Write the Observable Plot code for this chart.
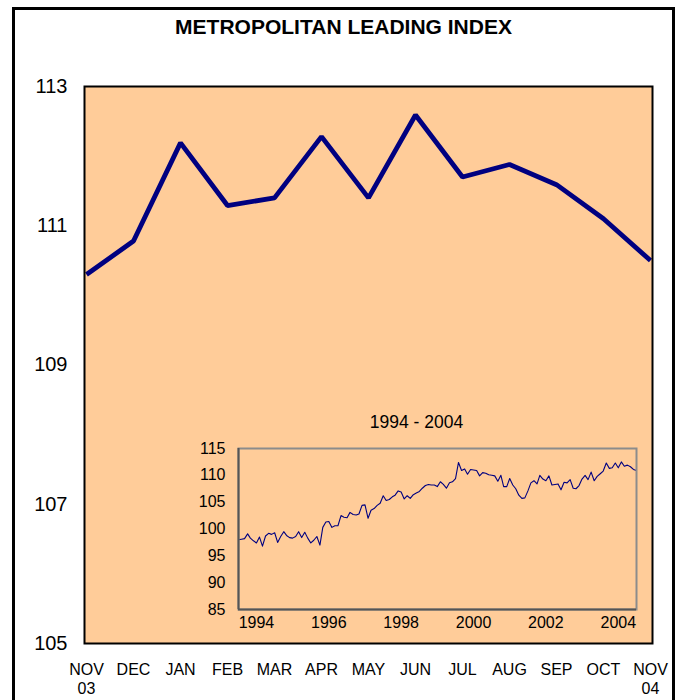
<!DOCTYPE html>
<html>
<head>
<meta charset="utf-8">
<script src="https://cdn.jsdelivr.net/npm/d3@7"></script>
<script src="https://cdn.jsdelivr.net/npm/@observablehq/plot@0.6"></script>
<style>
  html, body { margin: 0; padding: 0; background: #ffffff; }
  #wrap { position: relative; width: 680px; height: 700px; overflow: hidden; font-family: "Liberation Sans", Arial, sans-serif; }
  #outer { position: absolute; left: 12px; top: 7px; width: 657px; height: 760px; border: 3px solid #000; }
  #title { position: absolute; left: 12px; width: 663px; top: 14px; line-height: 26px; text-align: center; font-weight: bold; font-size: 21px; color: #000; }
  .layer { position: absolute; }
</style>
</head>
<body>
<div id="wrap">
  <div id="outer"></div>
  <div id="title">METROPOLITAN LEADING INDEX</div>
  <div id="main" class="layer" style="left:0;top:0;"></div>
  <div id="inset" class="layer" style="left:180px;top:400px;"></div>
</div>
<script>
// ---- Main chart data (Nov 2003 - Nov 2004) ----
const months = ["NOV\n03", "DEC", "JAN", "FEB", "MAR", "APR", "MAY", "JUN", "JUL", "AUG", "SEP", "OCT", "NOV\n04"];
const leadingIndex = [110.30, 110.78, 112.19, 111.29, 111.40, 112.28, 111.40, 112.59, 111.70, 111.88, 111.59, 111.10, 110.50];
const mainYTicks = [105, 107, 109, 111, 113];

// ---- Inset data (monthly, Nov 1993 - Nov 2004) ----
const insetStartYear = 1993;
const insetStartMonth = 10; // November (0-based)
const insetValues = [
  98.0, 98.1, 98.2, 99.1, 98.3, 97.8, 97.4, 98.5, 96.8, 98.7, 99.2, 99.0,
  99.3, 97.5, 98.6, 99.5, 98.8, 98.4, 98.3, 98.6, 99.5, 98.4, 99.4, 98.3,
  97.4, 97.9, 98.6, 97.0, 100.3, 101.3, 101.4, 100.3, 100.6, 100.6, 102.5, 102.2,
  102.1, 103.1, 102.7, 102.6, 102.8, 104.4, 104.5, 102.0, 103.5, 103.8, 104.4, 104.8,
  106.2, 105.3, 105.5, 106.0, 106.3, 107.1, 106.9, 105.6, 106.2, 105.7, 106.4, 106.7,
  107.0, 107.6, 108.1, 108.3, 108.2, 108.2, 107.9, 108.8, 108.3, 107.6, 108.6, 108.8,
  109.4, 112.4, 110.9, 111.2, 110.2, 111.1, 111.0, 110.9, 109.9, 110.5, 110.4, 110.1,
  110.0, 109.9, 108.9, 110.0, 107.9, 107.9, 109.4, 108.2, 107.5, 106.3, 105.7, 105.8,
  107.1, 108.6, 109.0, 108.4, 110.0, 109.3, 109.0, 109.9, 108.2, 108.3, 108.4, 107.3,
  108.7, 108.6, 109.2, 107.6, 107.5, 108.1, 109.3, 110.0, 109.2, 110.6, 109.0, 109.8,
  110.3, 110.8, 112.3, 111.3, 111.4, 112.3, 111.4, 112.5, 111.7, 111.9, 111.6, 111.1,
  110.9
];
const insetYTicks = [85, 90, 95, 100, 105, 110, 115];
const insetTickYears = [1994, 1996, 1998, 2000, 2002, 2004];
const insetTitle = "1994 - 2004";

const FONT = '"Liberation Sans", Arial, sans-serif';

// ---- Main chart ----
const mainData = months.map((m, i) => ({m, v: leadingIndex[i]}));
const main = Plot.plot({
  width: 680,
  height: 700,
  marginLeft: 84,
  marginRight: 28,
  marginTop: 86,
  marginBottom: 57,
  style: {fontFamily: FONT, fontSize: "20px", color: "#000", background: "transparent", overflow: "visible"},
  x: {type: "point", domain: months, padding: 0},
  y: {domain: [105, 113]},
  marks: [
    Plot.frame({fill: "#FFCC99", stroke: "none"}),
    Plot.line(mainData, {x: "m", y: "v", stroke: "#000080", strokeWidth: 4.8, strokeLinejoin: "miter", strokeLinecap: "butt"}),
    Plot.frame({stroke: "#000", strokeWidth: 2}),
    Plot.axisY({ticks: mainYTicks, tickSize: 0, tickPadding: 17, fontSize: 20, label: null}),
    Plot.axisX({tickSize: 0, tickPadding: 18, fontSize: 16, lineHeight: 1.2, label: null})
  ]
});
document.getElementById("main").appendChild(main);

// ---- Inset chart ----
const start = new Date(Date.UTC(insetStartYear, insetStartMonth, 1));
const insetData = insetValues.map((v, i) => ({date: d3.utcMonth.offset(start, i), v}));
const insetTicks = insetTickYears.map(y => new Date(Date.UTC(y, 4, 1)));
const first = insetData[0].date;
const last = insetData[insetData.length - 1].date;

const inset = Plot.plot({
  width: 470,
  height: 240,
  marginLeft: 58,
  marginRight: 14,
  marginTop: 48,
  marginBottom: 31,
  style: {fontFamily: FONT, fontSize: "16px", color: "#000", background: "transparent", overflow: "visible"},
  x: {type: "utc", domain: [first, last]},
  y: {domain: [85, 115]},
  marks: [
    Plot.line(insetData, {x: "date", y: "v", stroke: "#000080", strokeWidth: 1.1}),
    Plot.frame({stroke: "#8c8c8c", strokeWidth: 2}),
    Plot.ruleX([first], {stroke: "#555", strokeWidth: 2}),
    Plot.ruleY([85], {stroke: "#555", strokeWidth: 2}),
    Plot.axisY({ticks: insetYTicks, tickSize: 0, tickPadding: 13, fontSize: 16, label: null}),
    Plot.axisX({ticks: insetTicks, tickFormat: d => String(d.getUTCFullYear()), tickSize: 0, tickPadding: 7, fontSize: 16, label: null}),
    Plot.text([insetTitle], {text: d => d, frameAnchor: "top", dx: -21, dy: -33, fontSize: 17.5})
  ]
});
document.getElementById("inset").appendChild(inset);
</script>
</body>
</html>
